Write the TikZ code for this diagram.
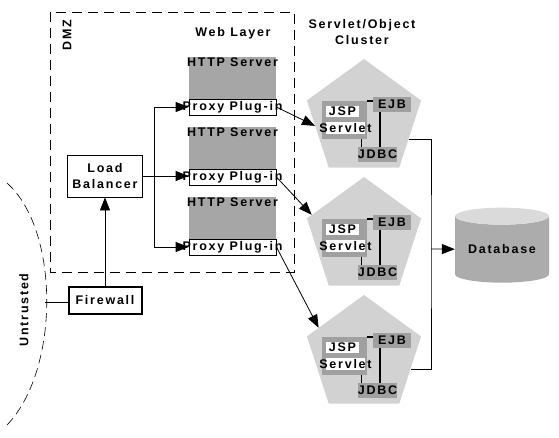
\documentclass[tikz,border=0pt]{standalone}
\usepackage{fontspec}
\setmainfont{Liberation Sans}[LetterSpace=14]
\usetikzlibrary{arrows.meta,
                shapes.geometric}

\definecolor{srvgray}{RGB}{166,166,166}
\definecolor{clugray}{RGB}{210,210,210}
\definecolor{partgray}{RGB}{160,160,160}
\definecolor{dbgray}{RGB}{172,172,172}
\definecolor{dbtop}{RGB}{218,218,218}

\begin{document}
\begin{tikzpicture}[x=1pt, y=-1pt,
        lbl/.style={font=\fontsize{12.5}{16}\selectfont\bfseries, inner sep=0pt},
        link/.style={line width=0.8pt},
        arr/.style={-{Triangle[length=13pt, width=10pt]}, line width=0.8pt},
        zone/.style={line width=1pt, dash pattern=on 10pt off 6pt},
        edge/.style={line width=0.6pt, dash pattern=on 9pt off 5pt},
        srvbox/.style={fill=srvgray, anchor=north, minimum width=87pt, minimum height=50pt, inner sep=0pt},
        proxybox/.style={draw, fill=white, line width=0.8pt, minimum width=87pt, minimum height=16pt, inner sep=0pt},
        clubox/.style={regular polygon, regular polygon sides=5, fill=clugray, minimum size=120pt, inner sep=0pt},
        partbox/.style={fill=partgray, inner sep=0pt},
        wbox/.style={fill=white, inner sep=0pt},
        dbshape/.style={cylinder, shape border rotate=90, aspect=0.25, minimum width=94pt, minimum height=75pt,
            cylinder uses custom fill, cylinder body fill=dbgray, cylinder end fill=dbtop, inner sep=0pt}]
    \useasboundingbox (0, 0) rectangle (559, 437);

    % zones
    \draw [zone] (50, 12) rectangle (294, 272);
    \node [lbl, rotate=90] (dmz) at (67, 35) {DMZ};
    \draw [edge] (7, 183) .. controls (60, 230) and (60, 370) .. (7, 425);
    \node [lbl, rotate=90] (untrusted) at (24, 310) {Untrusted};

    \node [lbl] (web) at (233, 33) {Web Layer};
    \node [lbl, align=center] (cluster) at (362, 32) {Servlet/Object\\Cluster};

    % web layer
    \foreach \i in {1, 2, 3} {
        \pgfmathsetmacro{\sy}{57 + 70*(\i-1)}
        \node [srvbox] (srv\i) at (232.5, \sy) {};
        \node [lbl] (srvname\i) at (232.5, \sy+5) {HTTP Server};
        \node [proxybox, label={[lbl]center:Proxy Plug-in}] (proxy\i) at (232.5, \sy+50) {};
    }

    % servlet/object cluster
    \foreach \i in {1, 2, 3} {
        \pgfmathsetmacro{\cy}{119 + 118*(\i-1)}
        \node [clubox] (clu\i) at (364, \cy) {};
        \begin{scope}[shift={(364, \cy)}]
            \node [partbox, minimum width=45pt, minimum height=38pt] (ctr\i) at (-19.5, 1) {};
            \node [wbox, minimum width=33pt, minimum height=11pt, label={[lbl]center:JSP}] (jsp\i) at (-21.5, -7.5) {};
            \node [wbox, minimum width=39pt, minimum height=12pt, label={[lbl]center:Servlet}] (servlet\i) at (-18.5, 9) {};
            \node [partbox, lbl, minimum width=38pt, minimum height=15pt] (ejb\i) at (28, -14.5) {EJB};
            \node [partbox, lbl, minimum width=39pt, minimum height=15pt] (jdbc\i) at (13.5, 35.5) {JDBC};
        \end{scope}
        \draw [line width=1.5pt] (ctr\i.north east) -- (ctr\i.north east -| ejb\i.west);
        \draw [line width=1.5pt] ([xshift=7pt]ejb\i.south west) -- ([xshift=7pt]ejb\i.south west |- jdbc\i.north);
        \draw [line width=1.5pt] ([xshift=4pt]jdbc\i.north west) -- ([xshift=4pt]jdbc\i.north west |- ctr\i.south);
    }

    \node [dbshape, lbl] (db) at (502, 249.5) {Database};

    \node [draw, lbl, align=center, line width=0.8pt, minimum width=75pt, minimum height=42pt] (lb) at (105, 176) {Load\\Balancer};
    \node [draw, lbl, line width=2pt, minimum width=73pt, minimum height=27pt] (fw) at (105, 300.5) {Firewall};

    % connectors
    \coordinate (gap) at (45, 302);
    \draw [link] (gap) -- (gap -| fw.west);
    \draw [arr] (fw) -- (lb);
    \draw [arr] (lb.east) -- (lb.east -| proxy2.west);
    \coordinate (fork) at (154, 176);
    \draw [arr] (fork) |- (proxy1);
    \draw [arr] (fork) |- (proxy3);

    \draw [arr] (proxy1.east) -- (clu1.188);
    \draw [arr] (proxy2.east) -- (clu2.157);
    \draw [arr] (proxy3.east) -- (clu3.149);

    \coordinate (bus) at (431, 249);
    \draw [link] (clu1.-25) -| (bus) |- (clu3.-17);
    \draw [arr] (bus) -- (db);
\end{tikzpicture}
\end{document}
